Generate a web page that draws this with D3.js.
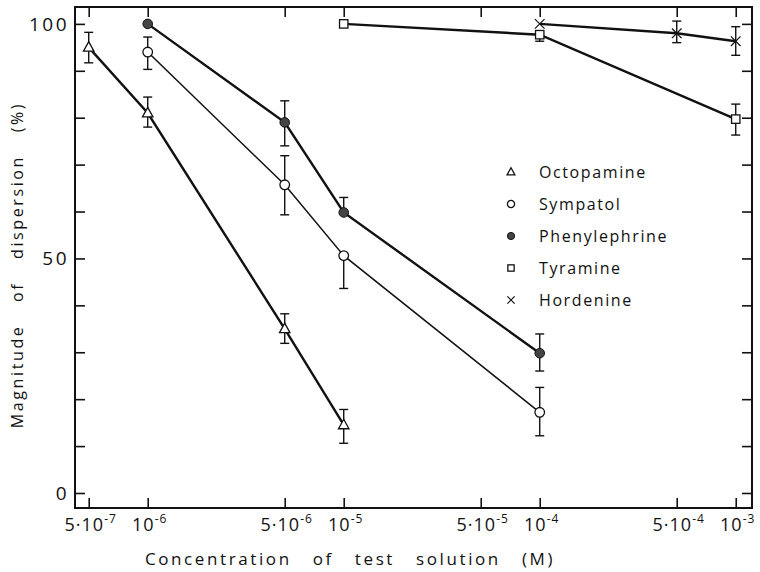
<!DOCTYPE html>
<html>
<head>
<meta charset="utf-8">
<script src="https://cdn.jsdelivr.net/npm/d3@7"></script>
<style>
  body { margin: 0; background: #fff; }
  text { font-family: "Open Sans", "DejaVu Sans", sans-serif; font-weight: 400; fill: #111; }
</style>
</head>
<body>
<div id="chart"></div>
<script>
// data (concentration in M, dispersion in %)
const octoX = [5e-7, 1e-6, 5e-6, 1e-5];
const octoY = [95, 81, 35, 14.5];
const octoHi = [98.2, 84.4, 38.2, 17.8];
const octoLo = [91.7, 78.0, 31.9, 10.6];

const sympX = [1e-6, 5e-6, 1e-5, 1e-4];
const sympY = [94, 65.7, 50.6, 17.2];
const sympHi = [97.2, 71.9, null, 22.5];
const sympLo = [90.3, 59.3, 43.6, 12.2];

const phenX = [1e-6, 5e-6, 1e-5, 1e-4];
const phenY = [100, 79, 59.8, 29.8];
const phenHi = [null, 83.6, 63.0, 33.9];
const phenLo = [null, 74.0, null, 26.0];

const tyrX = [1e-5, 1e-4, 1e-3];
const tyrY = [100, 97.7, 79.7];
const tyrHi = [null, null, 82.9];
const tyrLo = [null, 96.3, 76.3];

const hordX = [1e-4, 5e-4, 1e-3];
const hordY = [100, 98, 96.3];
const hordHi = [null, 100.6, 99.4];
const hordLo = [null, 96.0, 93.3];

const seriesNames = ["Octopamine", "Sympatol", "Phenylephrine", "Tyramine", "Hordenine"];
const xTicks = [5e-7, 1e-6, 5e-6, 1e-5, 5e-5, 1e-4, 5e-4, 1e-3];
const xTickMant = ["5\u00b710", "10", "5\u00b710", "10", "5\u00b710", "10", "5\u00b710", "10"];
const xTickExp = ["-7", "-6", "-6", "-5", "-5", "-4", "-4", "-3"];
const yLabels = [0, 50, 100];

const W = 760, H = 572;
const mLeft = 75, mRight = 752, mTop = 7, mBottom = 508;

var svg = d3.select("#chart").append("svg")
  .attr("width", W).attr("height", H);

// log x, frame a little wider than the ticks
var x = d3.scaleLog()
  .domain([Math.pow(10, -6.371), Math.pow(10, -2.917)])
  .range([mLeft, mRight]);
var y = d3.scaleLinear()
  .domain([-3.2, 103.6])
  .range([mBottom, mTop]);

// frame
svg.append("rect")
  .attr("x", mLeft).attr("y", mTop)
  .attr("width", mRight - mLeft).attr("height", mBottom - mTop)
  .attr("fill", "none").attr("stroke", "#111").attr("stroke-width", 2);

// inward ticks, all four sides
var tl = 10;
svg.append("g").attr("transform", "translate(" + mLeft + ",0)")
  .call(d3.axisRight(y).tickValues(d3.range(0, 101, 10)).tickSize(tl).tickFormat(""))
  .call(g => g.select(".domain").remove());
svg.append("g").attr("transform", "translate(" + mRight + ",0)")
  .call(d3.axisLeft(y).tickValues(d3.range(0, 101, 10)).tickSize(tl).tickFormat(""))
  .call(g => g.select(".domain").remove());
svg.append("g").attr("transform", "translate(0," + mBottom + ")")
  .call(d3.axisTop(x).tickValues(xTicks).tickSize(tl).tickFormat(""))
  .call(g => g.select(".domain").remove());
svg.append("g").attr("transform", "translate(0," + mTop + ")")
  .call(d3.axisBottom(x).tickValues(xTicks).tickSize(tl).tickFormat(""))
  .call(g => g.select(".domain").remove());
svg.selectAll(".tick line").attr("stroke", "#111").attr("stroke-width", 1.6);

// y labels
svg.selectAll(".ylab").data(yLabels).join("text")
  .attr("x", 69).attr("y", d => y(d) + 7)
  .attr("text-anchor", "end")
  .attr("font-size", 19)
  .attr("letter-spacing", 2.5)
  .text(d => d);

// x labels with superscripts
var xl = svg.selectAll(".xlab").data(xTicks).join("text")
  .attr("x", d => x(d) + 2).attr("y", 531)
  .attr("text-anchor", "middle")
  .attr("font-size", 18)
  .attr("letter-spacing", 1);
xl.append("tspan").text((d, i) => xTickMant[i]);
xl.append("tspan").attr("dy", -8).attr("font-size", 12).text((d, i) => xTickExp[i]);

// axis titles
svg.append("text")
  .attr("x", 350).attr("y", 565)
  .attr("text-anchor", "middle")
  .attr("font-size", 17)
  .attr("letter-spacing", 2.6)
  .attr("word-spacing", 14)
  .text("Concentration of test solution (M)");
svg.append("text")
  .attr("transform", "translate(23,265) rotate(-90)")
  .attr("text-anchor", "middle")
  .attr("font-size", 16)
  .attr("letter-spacing", 2.6)
  .attr("word-spacing", 16)
  .text("Magnitude of dispersion (%)");

// series setup
var series = [
  { xs: octoX, ys: octoY, hi: octoHi, lo: octoLo, sym: "tri", w: 2.4 },
  { xs: sympX, ys: sympY, hi: sympHi, lo: sympLo, sym: "circ", w: 1.5 },
  { xs: phenX, ys: phenY, hi: phenHi, lo: phenLo, sym: "dot", w: 2.4 },
  { xs: tyrX, ys: tyrY, hi: tyrHi, lo: tyrLo, sym: "sq", w: 2.4 },
  { xs: hordX, ys: hordY, hi: hordHi, lo: hordLo, sym: "x", w: 2.4 }
];

var line = d3.line().x(d => x(d[0])).y(d => y(d[1]));

function drawMarker(g, sym, size) {
  if (sym == "tri") {
    var s = size * 0.95;
    g.append("path").attr("d", "M0," + (-s * 0.6) + "L" + (s * 0.55) + "," + (s * 0.4) + "L" + (-s * 0.55) + "," + (s * 0.4) + "Z")
      .attr("fill", "#fff").attr("stroke", "#111").attr("stroke-width", 1.3);
  } else if (sym == "circ") {
    g.append("circle").attr("r", size * 0.48).attr("fill", "#fff").attr("stroke", "#111").attr("stroke-width", 1.3);
  } else if (sym == "dot") {
    g.append("circle").attr("r", size * 0.48).attr("fill", "#444").attr("stroke", "#111").attr("stroke-width", 1);
  } else if (sym == "sq") {
    var h = size * 0.42;
    g.append("rect").attr("x", -h).attr("y", -h).attr("width", 2 * h).attr("height", 2 * h)
      .attr("fill", "#fff").attr("stroke", "#111").attr("stroke-width", 1.3);
  } else {
    var c = size * 0.48;
    g.append("path").attr("d", "M" + (-c) + "," + (-c) + "L" + c + "," + c + "M" + (-c) + "," + c + "L" + c + "," + (-c))
      .attr("stroke", "#111").attr("stroke-width", 1.2).attr("fill", "none");
  }
}

series.forEach(function (s) {
  var pts = s.xs.map((v, i) => [v, s.ys[i]]);
  // error bars
  pts.forEach(function (p, i) {
    var cx = x(p[0]);
    [s.hi[i], s.lo[i]].forEach(function (e) {
      if (e == null) return;
      svg.append("line").attr("x1", cx).attr("x2", cx)
        .attr("y1", y(p[1])).attr("y2", y(e))
        .attr("stroke", "#111").attr("stroke-width", 1.4);
      svg.append("line").attr("x1", cx - 4.5).attr("x2", cx + 4.5)
        .attr("y1", y(e)).attr("y2", y(e))
        .attr("stroke", "#111").attr("stroke-width", 1.4);
    });
  });
  svg.append("path").datum(pts)
    .attr("d", line)
    .attr("fill", "none").attr("stroke", "#111").attr("stroke-width", s.w);
  pts.forEach(function (p) {
    var g = svg.append("g").attr("transform", "translate(" + x(p[0]) + "," + y(p[1]) + ")");
    drawMarker(g, s.sym, 10);
  });
});

// legend
var leg = svg.append("g");
seriesNames.forEach(function (n, i) {
  var ly = 172 + i * 32;
  var g = leg.append("g").attr("transform", "translate(511," + ly + ")");
  drawMarker(g, series[i].sym, 7.5);
  leg.append("text")
    .attr("x", 539).attr("y", ly + 6)
    .attr("font-size", 16)
    .attr("letter-spacing", 1.6)
    .text(n);
});
</script>
</body>
</html>
